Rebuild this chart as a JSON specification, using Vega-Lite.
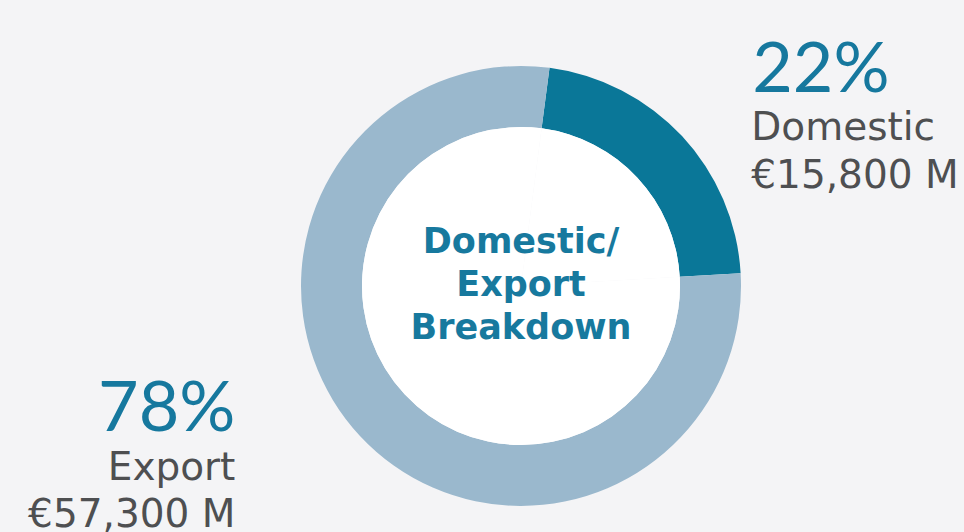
{
  "$schema": "https://vega.github.io/schema/vega-lite/v6.json",
  "width": 886,
  "height": 492,
  "autosize": {"type": "none"},
  "padding": {"left": 78, "top": 40, "right": 0, "bottom": 0},
  "background": "#f4f4f6",
  "config": {"view": {"stroke": null}},
  "data": {
    "values": [
      {"category": "Domestic", "share": 22, "amount": "€15,800 M"},
      {"category": "Export", "share": 78, "amount": "€57,300 M"}
    ]
  },
  "transform": [
    {"calculate": "datum.share + '%'", "as": "pct"},
    {"calculate": "datum.category + '\\n' + datum.amount", "as": "detail"}
  ],
  "layer": [
    {
      "mark": {"type": "arc", "innerRadius": 159, "outerRadius": 220},
      "encoding": {
        "theta": {"field": "share", "type": "quantitative", "stack": true, "scale": {"range": [0.13, 6.4132]}},
        "order": {"field": "category", "sort": "ascending"},
        "color": {"field": "category", "type": "nominal", "scale": {"domain": ["Domestic", "Export"], "range": ["#0a7798", "#9ab8cd"]}, "legend": null}
      }
    },
    {
      "mark": {"type": "arc", "outerRadius": 159, "fill": "#ffffff"},
      "encoding": {
        "theta": {"field": "share", "type": "quantitative", "stack": true},
        "order": {"field": "category", "sort": "ascending"},
        "detail": {"field": "category"}
      }
    },
    {
      "transform": [{"filter": "datum.category === 'Domestic'"}],
      "mark": {"type": "text", "text": ["Domestic/", "Export", "Breakdown"], "font": "DejaVu Sans", "fontWeight": "bold", "fontSize": 35, "lineHeight": 43, "fill": "#17799e", "align": "center", "baseline": "alphabetic", "dy": -33},
      "encoding": {}
    },
    {
      "mark": {"type": "text", "radius": 290, "align": "left", "baseline": "alphabetic", "dx": 19, "dy": 4, "font": "Lato", "fontSize": 70, "fill": "#16789e"},
      "encoding": {
        "theta": {"field": "share", "type": "quantitative", "stack": true},
        "order": {"field": "category", "sort": "ascending"},
        "detail": {"field": "category"},
        "text": {"condition": {"test": "datum.category === 'Domestic'", "field": "pct"}, "value": ""}
      }
    },
    {
      "mark": {"type": "text", "radius": 290, "align": "left", "baseline": "alphabetic", "dx": 18, "dy": 52, "font": "DejaVu Sans", "fontSize": 39, "lineHeight": 48, "lineBreak": "\n", "fill": "#4e4f51"},
      "encoding": {
        "theta": {"field": "share", "type": "quantitative", "stack": true},
        "order": {"field": "category", "sort": "ascending"},
        "detail": {"field": "category"},
        "text": {"condition": {"test": "datum.category === 'Domestic'", "field": "detail"}, "value": ""}
      }
    },
    {
      "mark": {"type": "text", "radius": 300, "align": "right", "baseline": "alphabetic", "dx": -66, "dy": -59, "font": "Lato", "fontSize": 70, "fill": "#16789e"},
      "encoding": {
        "theta": {"field": "share", "type": "quantitative", "stack": true},
        "order": {"field": "category", "sort": "ascending"},
        "detail": {"field": "category"},
        "text": {"condition": {"test": "datum.category === 'Export'", "field": "pct"}, "value": ""}
      }
    },
    {
      "mark": {"type": "text", "radius": 300, "align": "right", "baseline": "alphabetic", "dx": -66, "dy": -10, "font": "DejaVu Sans", "fontSize": 39, "lineHeight": 47, "lineBreak": "\n", "fill": "#4e4f51"},
      "encoding": {
        "theta": {"field": "share", "type": "quantitative", "stack": true},
        "order": {"field": "category", "sort": "ascending"},
        "detail": {"field": "category"},
        "text": {"condition": {"test": "datum.category === 'Export'", "field": "detail"}, "value": ""}
      }
    }
  ]
}
